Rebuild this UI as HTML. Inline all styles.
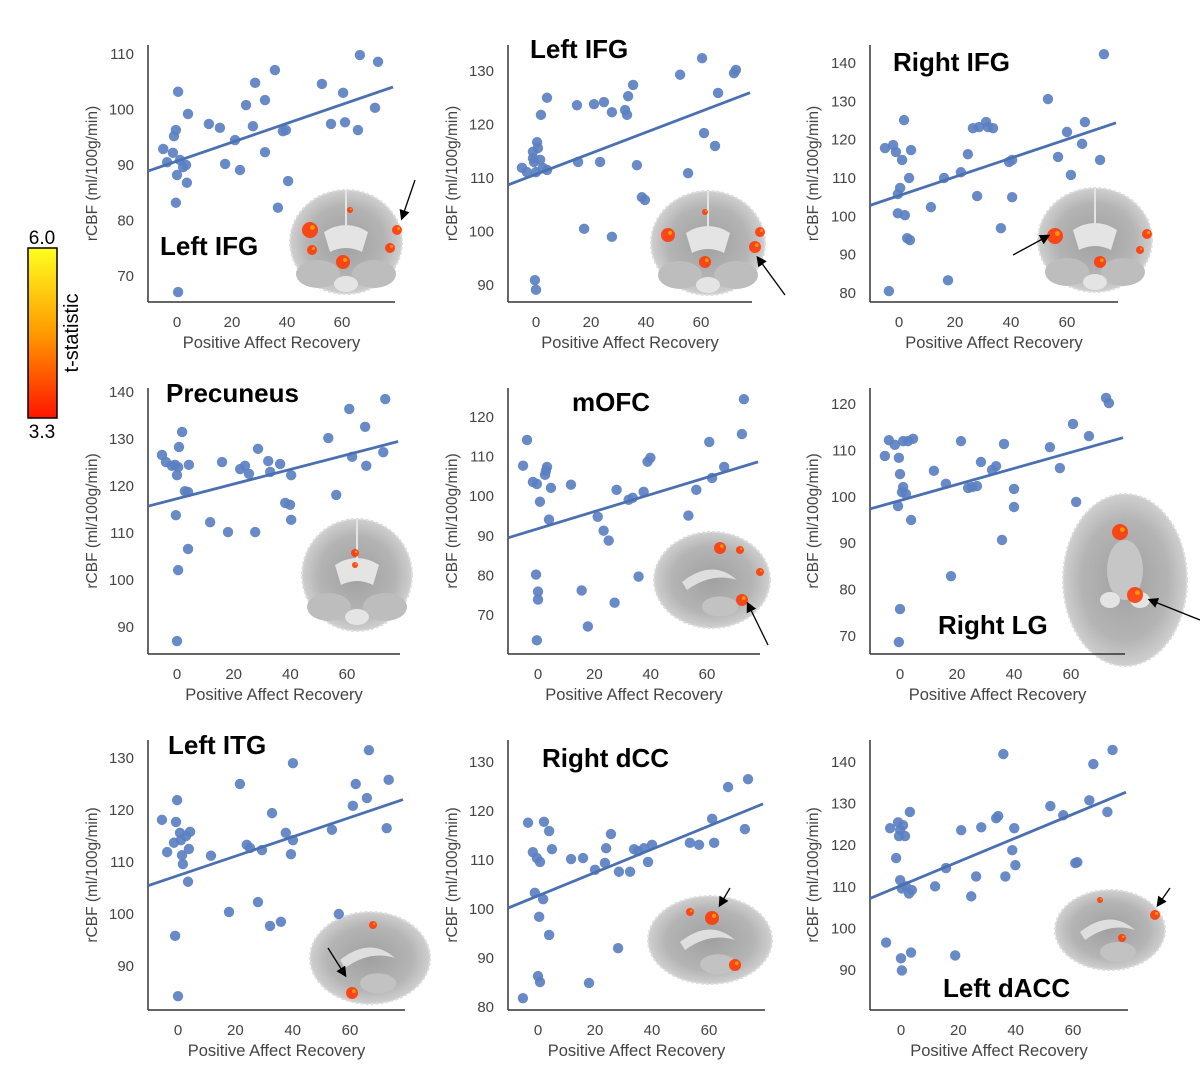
<!DOCTYPE html>
<html><head><meta charset="utf-8"><style>
html,body{margin:0;padding:0;background:#fff;}
svg{display:block;font-family:"Liberation Sans",sans-serif;}
</style></head><body>
<svg id="fig" width="1200" height="1079" viewBox="0 0 1200 1079" xmlns="http://www.w3.org/2000/svg">
<defs>
<linearGradient id="cbar" x1="0" y1="0" x2="0" y2="1">
<stop offset="0" stop-color="#ffff20"/><stop offset="0.5" stop-color="#ff9a00"/><stop offset="1" stop-color="#ff1500"/>
</linearGradient>
<radialGradient id="brainG" cx="0.5" cy="0.5" r="0.5">
<stop offset="0" stop-color="#a0a0a0"/><stop offset="0.7" stop-color="#b4b4b4"/><stop offset="1" stop-color="#cfcfcf"/>
</radialGradient>
<marker id="ah" markerWidth="8" markerHeight="8" refX="6" refY="4" orient="auto"><path d="M0,0 L8,4 L0,8 z" fill="#000"/></marker>
</defs>
<g>
<rect x="28" y="248" width="29" height="170" fill="url(#cbar)" stroke="#000" stroke-width="1.5"/>
<text x="42" y="244" font-size="19" text-anchor="middle" fill="#000">6.0</text>
<text x="42" y="438" font-size="19" text-anchor="middle" fill="#000">3.3</text>
<text transform="translate(78,333) rotate(-90)" font-size="20" text-anchor="middle" fill="#000">t-statistic</text>
</g>
<g id="panels"></g>
</svg>
<script>
// ---- data (x = Positive Affect Recovery, y = rCBF) ----
const titles = ["Left IFG","Left IFG","Right IFG","Precuneus","mOFC","Right LG","Left ITG","Right dCC","Left dACC"];
const xTicks = [0,20,40,60];
const yTicks1 = [70,80,90,100,110];
const yTicks2 = [90,100,110,120,130];
const yTicks3 = [80,90,100,110,120,130,140];
const yTicks4 = [90,100,110,120,130,140];
const yTicks5 = [70,80,90,100,110,120];
const yTicks6 = [70,80,90,100,110,120];
const yTicks7 = [90,100,110,120,130];
const yTicks8 = [80,90,100,110,120,130];
const yTicks9 = [90,100,110,120,130,140];
const x1=[-5,-3.6,-1.1,-0.4,-1.5,0,1.1,2.2,0.4,-0.4,0.4,4,3.6,3.3,11.6,15.6,17.5,21.1,22.9,25.1,27.6,28.4,32,32,35.6,38.5,39.6,40.4,36.7,52.7,56,60.4,61.1,65.8,66.5,72,73.1];
const y1=[92.9,90.5,95.2,96.3,92.2,88.2,90.9,89.6,103.2,83.2,67.1,99.2,86.8,90,97.4,96.7,90.2,94.5,89.1,100.8,97,104.8,92.3,101.7,107.1,96.1,96.3,87.1,82.3,104.6,97.4,103,97.7,96.3,109.8,100.3,108.6];
const x2=[-5.1,-3.3,-1.1,-1.1,0.4,0.7,-0.7,0,1.5,1.8,4,2.5,4,-0.4,0,15.3,14.9,17.5,21.1,24.7,27.6,23.3,27.6,32.4,33.5,35.3,33.1,36.7,38.5,39.6,52.4,55.3,60.4,61.1,65.1,66.2,72,72.7];
const y2=[111.9,111.1,113.7,114.9,116.7,115.6,113,111.1,113.4,121.8,125,111.9,111.5,90.9,89.1,113,123.6,100.5,123.8,124.2,99,113,122.3,122.7,125.3,127.4,121.8,112.4,106.4,105.9,129.3,110.9,132.4,118.4,116,125.9,129.6,130.2];
const x3=[-5,-2.1,-1.1,1.1,0.4,-0.4,2.1,-0.4,1.8,4.3,3.6,2.9,3.9,-3.6,11.4,16.1,17.5,22.1,24.6,27.9,26.4,28.6,31.1,31.8,33.6,36.4,39.3,40.4,40.4,53.2,56.8,60,61.4,65.4,66.4,71.8,73.2];
const y3=[117.8,118.6,116.8,114.7,107.4,105.8,100.3,100.8,125.1,117.3,110,94.3,93.8,80.5,102.4,110,83.3,111.5,116.2,105.3,123,123.3,124.6,123.3,123,96.9,114.2,114.7,105,130.6,115.5,122,110.8,118.9,124.6,114.7,142.3];
const x4=[-5.3,-3.9,-1.8,-0.7,0.4,0.7,1.8,0,2.8,3.9,4.2,-0.4,0.4,3.9,0,11.7,15.9,18,22.3,24,25.4,28.6,27.6,32.2,32.9,36.4,38.2,39.9,40.3,40.3,53.4,56.2,60.8,61.8,66.4,66.8,72.8,73.5];
const y4=[126.6,125.1,124.3,124.5,124,128.3,131.5,122.3,118.9,118.7,124.5,113.8,102.1,106.6,87,112.3,125.1,110.2,123.6,124.3,122.6,127.9,110.2,125.3,123,124.7,116.4,116,122.3,112.8,130.2,118.1,136.4,126.2,132.6,124.3,127.2,138.5];
const x5=[-5.3,-3.9,-1.8,-0.4,0.7,2.5,2.8,3.2,4.6,-0.7,0,0,-0.4,3.9,11.7,15.5,17.7,21.2,23.3,25.1,27.2,27.9,32.2,33.6,35.7,37.5,39.9,38.9,53.4,56.2,60.8,61.8,66.1,72.4,73.1];
const y5=[107.7,114.2,103.6,103.1,98.6,105.4,106.4,107.4,102.1,80.2,75.9,73.9,63.6,94.1,102.9,76.2,67.1,94.8,91.3,88.8,73.1,101.6,99.1,99.6,79.7,101.1,109.7,108.7,95.1,101.6,113.7,104.6,107.4,115.7,124.5];
const x6=[-5.3,-3.9,-1.8,-0.4,1.1,2.8,4.6,0,0.7,2.1,-0.7,1.1,3.9,0,-0.4,11.9,16.1,17.9,21.4,23.9,25.3,27,28.4,32.3,33.7,36.5,35.8,40,40,52.6,56.1,60.7,61.8,66.3,72.3,73.3];
const y6=[108.8,112.2,111.2,108.4,112,112,112.5,104.9,101,100.6,98,102.1,95,75.8,68.7,105.6,102.8,82.9,112,101.9,102.1,102.3,107.5,105.8,106.6,111.4,90.7,101.7,97.8,110.7,106.2,115.7,98.9,113.1,121.3,120.2];
const x7=[-5.6,-3.8,-1.4,-0.7,-0.3,0.7,1,1.7,1.4,2.8,3.5,4.2,3.8,-1,0,11.5,17.8,21.6,24,25.1,27.9,29.3,32.8,32.1,35.9,37.6,39.4,40.1,40.1,53.7,56.1,61,62,65.9,66.6,72.8,73.5];
const y7=[118.1,111.9,113.7,117.7,121.9,115.6,114.2,109.6,111.3,115,106.2,115.8,112.5,95.8,84.2,111.2,100.4,125,113.3,112.7,102.3,112.3,119.4,97.7,98.5,115.6,111.5,114.2,129,116.2,100,120.8,125,122.3,131.5,116.5,125.8];
const x8=[-5.3,-3.5,-1.8,-0.4,0.7,2.1,3.9,4.9,-1.1,0.4,1.8,3.9,0,0.7,11.6,15.8,17.9,20,23.5,23.9,25.6,28.1,28.4,32.3,33.7,35.1,37.2,38.6,40,53.3,56.5,61.1,61.8,66.7,72.6,73.7];
const y8=[81.8,117.6,111.6,110.4,109.6,117.8,115.9,112.2,103.3,98.4,102,94.7,86.3,85.1,110.2,110.4,84.9,108,109.4,112.4,115.3,92,107.6,107.6,112.2,111.8,112.4,109.6,113.1,113.5,113.1,118.4,113.5,124.9,116.3,126.5];
const x9=[-5.2,-3.8,-1.7,-1,-0.3,-0.7,0.7,1.4,3.1,-0.3,0.3,1.7,2.8,3.8,0,0.3,3.5,11.9,15.7,18.9,21,24.5,26.2,28,33.2,33.9,36.4,38.8,39.5,39.9,35.7,52.1,56.6,60.8,61.5,65.7,67.1,72,73.8];
const y9=[96.6,124.1,116.9,125.5,123.6,122.2,124.8,122.2,128,111.6,109.6,110.1,108.4,109.2,92.8,89.9,94.2,110.1,114.5,93.5,123.6,107.7,112.5,124.3,126.5,127,112.5,118.8,124.1,115.2,141.9,129.4,127.2,115.7,115.9,130.8,139.5,128,142.9];
const fitSlope = [0.17,0.196,0.245,0.156,0.216,0.173,0.186,0.2375,0.286];
const fitIntercept = [90.7,110.7,105.4,117.3,91.8,99.2,107.4,102.7,110.3];

// ---- layout ----
const X=[x1,x2,x3,x4,x5,x6,x7,x8,x9], Y=[y1,y2,y3,y4,y5,y6,y7,y8,y9];
const YT=[yTicks1,yTicks2,yTicks3,yTicks4,yTicks5,yTicks6,yTicks7,yTicks8,yTicks9];
const geo=[
 {l:148,r:395,t:45,b:302,x0:177,x60:342,ya:[110,54],yb:[70,276],ylab:97},
 {l:508,r:752,t:45,b:302,x0:536,x60:701,ya:[130,71],yb:[90,285],ylab:457},
 {l:870,r:1118,t:45,b:302,x0:899,x60:1067,ya:[140,63],yb:[80,293],ylab:818},
 {l:148,r:400,t:388,b:654,x0:177,x60:347,ya:[140,392],yb:[90,627],ylab:97},
 {l:508,r:760,t:388,b:654,x0:538,x60:707,ya:[120,417],yb:[70,615],ylab:457},
 {l:870,r:1125,t:388,b:654,x0:900,x60:1071,ya:[120,404],yb:[70,636],ylab:818},
 {l:148,r:405,t:740,b:1010,x0:178,x60:350,ya:[130,758],yb:[90,966],ylab:97},
 {l:508,r:765,t:740,b:1010,x0:538,x60:709,ya:[130,762],yb:[80,1007],ylab:457},
 {l:870,r:1128,t:740,b:1010,x0:901,x60:1073,ya:[140,762],yb:[90,970],ylab:818}
];
const titlePos=[[160,255],[530,58],[893,71],[166,402],[572,411],[938,634],[168,754],[542,767],[943,997]];
const brains=[
 {type:"cor",cx:346,cy:242,rx:56,ry:52,spots:[[310,230,8],[397,230,5],[343,262,7],[312,250,5],[390,248,5],[350,210,3]],arrow:[415,180,402,218]},
 {type:"cor",cx:708,cy:243,rx:57,ry:52,spots:[[668,235,7],[760,232,5],[755,247,6],[705,262,6],[705,212,3]],arrow:[785,295,758,258]},
 {type:"cor",cx:1095,cy:240,rx:57,ry:52,spots:[[1055,236,8],[1147,234,5],[1100,262,6],[1140,250,4]],arrow:[1013,255,1048,236]},
 {type:"cor",cx:357,cy:575,rx:55,ry:56,spots:[[355,553,4],[355,565,3]],arrow:null},
 {type:"sag",cx:712,cy:580,rx:58,ry:48,spots:[[720,548,6],[740,550,4],[742,600,6],[760,572,4]],arrow:[768,645,748,604]},
 {type:"ax",cx:1125,cy:580,rx:62,ry:86,spots:[[1120,532,8],[1135,595,8]],arrow:[1200,620,1150,600]},
 {type:"sag",cx:370,cy:958,rx:60,ry:46,spots:[[373,925,4],[352,993,6]],arrow:[328,948,345,975]},
 {type:"sag",cx:710,cy:940,rx:62,ry:44,spots:[[712,918,7],[735,965,6],[690,912,4]],arrow:[730,888,720,905]},
 {type:"sag",cx:1110,cy:930,rx:55,ry:40,spots:[[1155,915,5],[1122,938,4],[1100,900,3]],arrow:[1170,888,1158,905]}
];
const NS="http://www.w3.org/2000/svg";
const root=document.getElementById('panels');
function mk(tag,attrs,parent){const e=document.createElementNS(NS,tag);for(const k in attrs)e.setAttribute(k,attrs[k]);(parent||root).appendChild(e);return e;}

for(let p=0;p<9;p++){
  const g=geo[p];
  const grp=mk('g',{});
  
  
  const sx=v=>g.x0+(g.x60-g.x0)*v/60;
  const sy=v=>g.ya[1]+(g.yb[1]-g.ya[1])*(v-g.ya[0])/(g.yb[0]-g.ya[0]);
  const inv=px=>(px-g.x0)*60/(g.x60-g.x0);
  const b=brains[p];
  const bg=mk('g',{},grp);
  
  
  mk('ellipse',{cx:b.cx,cy:b.cy,rx:b.rx,ry:b.ry,fill:"url(#brainG)",stroke:"#ddd","stroke-width":2,"stroke-dasharray":"3 2"},bg);
  if(b.type==="cor"){
    mk('path',{d:`M${b.cx-22},${b.cy-10} q22,-14 44,0 l-6,20 q-16,-8 -32,0 z`,fill:"#e4e4e4"},bg);
    mk('ellipse',{cx:b.cx-28,cy:b.cy+32,rx:22,ry:14,fill:"#bdbdbd"},bg);
    mk('ellipse',{cx:b.cx+28,cy:b.cy+32,rx:22,ry:14,fill:"#bdbdbd"},bg);
    mk('ellipse',{cx:b.cx,cy:b.cy+42,rx:12,ry:8,fill:"#e4e4e4"},bg);
    mk('line',{x1:b.cx,y1:b.cy-b.ry,x2:b.cx,y2:b.cy-5,stroke:"#e4e4e4","stroke-width":2},bg);
  } else if(b.type==="sag"){
    mk('path',{d:`M${b.cx-30},${b.cy+2} q30,-24 55,-2 q-25,-8 -50,10 z`,fill:"#dedede"},bg);
    mk('ellipse',{cx:b.cx+8,cy:b.cy+b.ry*0.55,rx:18,ry:10,fill:"#c2c2c2"},bg);
  } else {
    mk('ellipse',{cx:b.cx,cy:b.cy-10,rx:18,ry:30,fill:"#c6c6c6"},bg);
    mk('ellipse',{cx:b.cx-15,cy:b.cy+20,rx:10,ry:8,fill:"#e4e4e4"},bg);
    mk('ellipse',{cx:b.cx+15,cy:b.cy+20,rx:10,ry:8,fill:"#e4e4e4"},bg);
  }
  b.spots.forEach(s=>{
    const sp=mk('circle',{cx:s[0],cy:s[1],r:s[2],fill:"#ff3a08",opacity:0.9},bg);
    
    
    mk('circle',{cx:s[0]+s[2]*0.3,cy:s[1]-s[2]*0.3,r:Math.max(1,s[2]*0.3),fill:"#ff9a00"},bg);
  });
  if(b.arrow){
    const a=mk('line',{x1:b.arrow[0],y1:b.arrow[1],x2:b.arrow[2],y2:b.arrow[3],stroke:"#000","stroke-width":1.3,"marker-end":"url(#ah)"},grp);
    
    
  }
  const ya=mk('line',{x1:g.l,y1:g.t,x2:g.l,y2:g.b,stroke:"#333","stroke-width":1.5},grp);
  
  
  const xa=mk('line',{x1:g.l,y1:g.b,x2:g.r,y2:g.b,stroke:"#333","stroke-width":1.5},grp);
  
  
  xTicks.forEach(v=>{
    const t=mk('text',{x:sx(v),y:g.b+25,"font-size":15,"text-anchor":"middle",fill:"#444"},grp);
    t.textContent=v;
    
    
  });
  YT[p].forEach(v=>{
    const t=mk('text',{x:g.l-14,y:sy(v)+5,"font-size":15,"text-anchor":"end",fill:"#444"},grp);
    t.textContent=v;
    
    
  });
  const xl=mk('text',{x:(g.l+g.r)/2,y:g.b+46,"font-size":16.5,"text-anchor":"middle",fill:"#444"},grp);
  xl.textContent="Positive Affect Recovery";
  
  
  const yl=mk('text',{transform:`translate(${g.ylab},${(g.t+g.b)/2}) rotate(-90)`,"font-size":15.5,"text-anchor":"middle",fill:"#444"},grp);
  yl.textContent="rCBF (ml/100g/min)";
  
  
  X[p].forEach((xv,i)=>{
    const c=mk('circle',{cx:sx(xv),cy:sy(Y[p][i]),r:5.2,fill:"#5b80c2",opacity:0.92},grp);
    
    
  });
  const xs=inv(g.l), xe=inv(g.r-2);
  const fl=mk('line',{x1:sx(xs),y1:sy(fitIntercept[p]+fitSlope[p]*xs),x2:sx(xe),y2:sy(fitIntercept[p]+fitSlope[p]*xe),stroke:"#4a70b2","stroke-width":2.8},grp);
  
  
  const tt=mk('text',{x:titlePos[p][0],y:titlePos[p][1],"font-size":26,"font-weight":"bold",fill:"#000"},grp);
  tt.textContent=titles[p];
  
  
}
</script>
</body></html>
